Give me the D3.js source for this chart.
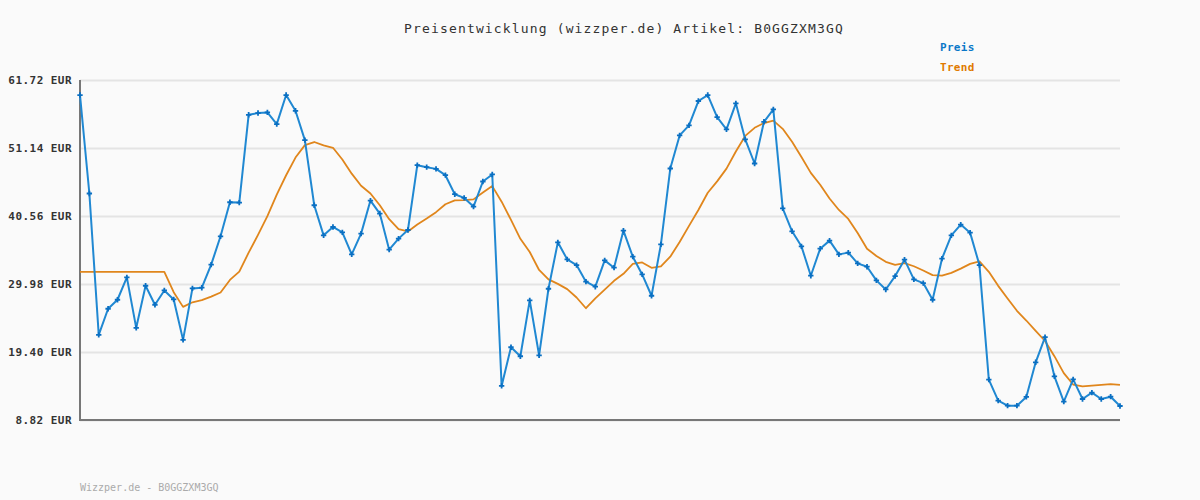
<!DOCTYPE html>
<html>
<head>
<meta charset="utf-8">
<script src="https://cdn.jsdelivr.net/npm/d3@7"></script>
<style>
  body { margin: 0; background: #fafafa; }
  svg { display: block; }
  .mono { font-family: "DejaVu Sans Mono", "Liberation Mono", monospace; }
</style>
</head>
<body>
<div id="chart"></div>
<script>
const TITLE = 'Preisentwicklung (wizzper.de) Artikel: B0GGZXM3GQ'
const FOOTER = 'Wizzper.de - B0GGZXM3GQ'
const SERIES_NAMES = ['Preis', 'Trend']

const Y_TICKS = [8.82, 19.40, 29.98, 40.56, 51.14, 61.72]

// price per sample
const PRICE = [
  59.38, 44.06, 22.07, 26.13, 27.53, 31.01, 23.16, 29.71, 26.75, 28.98,
  27.58, 21.29, 29.29, 29.40, 32.99, 37.40, 42.70, 42.65, 56.31, 56.58,
  56.68, 54.86, 59.38, 56.93, 52.37, 42.23, 37.55, 38.85, 38.02, 34.59,
  37.82, 42.96, 40.94, 35.32, 37.04, 38.38, 48.47, 48.16, 47.89, 46.91,
  43.95, 43.37, 42.03, 45.93, 47.02, 14.12, 20.14, 18.74, 27.42, 18.89,
  29.24, 36.46, 33.81, 32.92, 30.34, 29.56, 33.66, 32.52, 38.29, 34.23,
  31.47, 28.15, 36.15, 47.95, 53.10, 54.66, 58.45, 59.38, 55.95, 54.03,
  58.09, 52.47, 48.73, 55.22, 57.15, 41.76, 38.18, 35.84, 31.27, 35.48,
  36.73, 34.59, 34.86, 33.19, 32.67, 30.54, 29.13, 31.21, 33.77, 30.69,
  30.12, 27.53, 33.92, 37.55, 39.22, 37.97, 32.92, 15.10, 11.83, 11.05,
  11.05, 12.41, 17.80, 21.70, 15.62, 11.67, 15.15, 12.09, 13.08, 12.09,
  12.45, 11.00
]

// trend line
const TREND = [
  31.88, 31.88, 31.88, 31.88, 31.88, 31.88, 31.88, 31.88, 31.88, 31.88,
  28.70, 26.42, 27.14, 27.47, 28.02, 28.66, 30.61, 31.90, 34.86, 37.62,
  40.53, 43.89, 46.90, 49.65, 51.59, 52.07, 51.55, 51.17, 49.35, 47.15,
  45.26, 44.07, 42.23, 40.07, 38.53, 38.15, 39.24, 40.17, 41.16, 42.39,
  43.00, 43.04, 43.15, 44.21, 45.21, 42.79, 39.95, 37.01, 34.96, 32.16,
  30.69, 30.00, 29.18, 27.88, 26.21, 27.75, 29.10, 30.48, 31.57, 33.10,
  33.33, 32.50, 32.73, 34.23, 36.51, 39.02, 41.50, 44.18, 45.95, 47.93,
  50.59, 53.02, 54.28, 55.01, 55.41, 54.12, 52.10, 49.74, 47.27, 45.42,
  43.28, 41.50, 40.11, 37.91, 35.46, 34.34, 33.43, 32.97, 33.22, 32.74,
  32.08, 31.37, 31.28, 31.71, 32.37, 33.11, 33.49, 31.88, 29.69, 27.72,
  25.81, 24.30, 22.69, 21.11, 18.75, 16.12, 14.34, 14.04, 14.16, 14.27,
  14.41, 14.27
]

const WIDTH = 1200
const HEIGHT = 500
const M = { top: 80, right: 80, bottom: 80, left: 80 }

const BLUE = '#2088d2'
const BLUE_DARK = '#0a6fc2'
const ORANGE = '#e0861c'

let svg = d3.select('#chart')
  .append('svg')
    .attr('width', WIDTH)
    .attr('height', HEIGHT)
    .style('background', '#fafafa')

let x = d3.scaleLinear()
  .domain([0, PRICE.length - 1])
  .range([M.left, WIDTH - M.right])

let y = d3.scaleLinear()
  .domain([Y_TICKS[0], Y_TICKS[Y_TICKS.length - 1]])
  .range([HEIGHT - M.bottom, M.top])

// title
svg.append('text')
  .attr('class', 'mono')
  .attr('x', 624)
  .attr('y', 33)
  .attr('text-anchor', 'middle')
  .attr('font-size', 13)
  .attr('letter-spacing', 1.15)
  .attr('fill', '#333')
  .text(TITLE)

// legend
let legend = svg.append('g')
  .attr('class', 'mono')
  .attr('font-size', 11)
  .attr('font-weight', 'bold')
  .attr('letter-spacing', 0.3)

legend.selectAll('text')
    .data(SERIES_NAMES)
  .enter().append('text')
    .attr('x', 940)
    .attr('y', (d, i) => 51 + i * 20)
    .attr('fill', (d, i) => i ? '#e07a00' : '#0a78c8')
    .text((d) => d)

// grid + y labels
let yAxis = d3.axisLeft(y)
  .tickValues(Y_TICKS)
  .tickSize(-(WIDTH - M.left - M.right))
  .tickPadding(8)
  .tickFormat((d) => d.toFixed(2) + ' EUR')

let yg = svg.append('g')
  .attr('transform', 'translate(' + M.left + ',0)')
  .call(yAxis)

yg.select('.domain').remove()
yg.selectAll('.tick line')
  .attr('stroke', '#e4e4e4')
  .attr('stroke-width', 2)
yg.selectAll('.tick text')
  .attr('class', 'mono')
  .attr('x', -8)
  .attr('dy', '0.3em')
  .attr('font-size', 11)
  .attr('font-weight', 'bold')
  .attr('letter-spacing', 0.45)
  .attr('fill', '#333')

// axis frame
svg.append('path')
  .attr('d', 'M' + M.left + ' ' + M.top + 'V' + (HEIGHT - M.bottom) + 'H' + (WIDTH - M.right))
  .attr('fill', 'none')
  .attr('stroke', '#777')
  .attr('stroke-width', 2)

let line = d3.line()
  .x((d, i) => x(i))
  .y((d) => y(d))

svg.append('path')
  .datum(TREND)
  .attr('d', line)
  .attr('fill', 'none')
  .attr('stroke', ORANGE)
  .attr('stroke-width', 1.8)
  .attr('stroke-linejoin', 'round')

svg.append('path')
  .datum(PRICE)
  .attr('d', line)
  .attr('fill', 'none')
  .attr('stroke', BLUE)
  .attr('stroke-width', 2)
  .attr('stroke-linejoin', 'round')

svg.append('g')
  .selectAll('path')
    .data(PRICE)
  .enter().append('path')
    .attr('transform', (d, i) => 'translate(' + x(i) + ',' + y(d) + ')')
    .attr('d', d3.symbol(d3.symbolCross, 16))
    .attr('fill', BLUE_DARK)

// footer
svg.append('text')
  .attr('class', 'mono')
  .attr('x', 80)
  .attr('y', 491)
  .attr('font-size', 10)
  .attr('fill', '#aaa')
  .text(FOOTER)
</script>
</body>
</html>
